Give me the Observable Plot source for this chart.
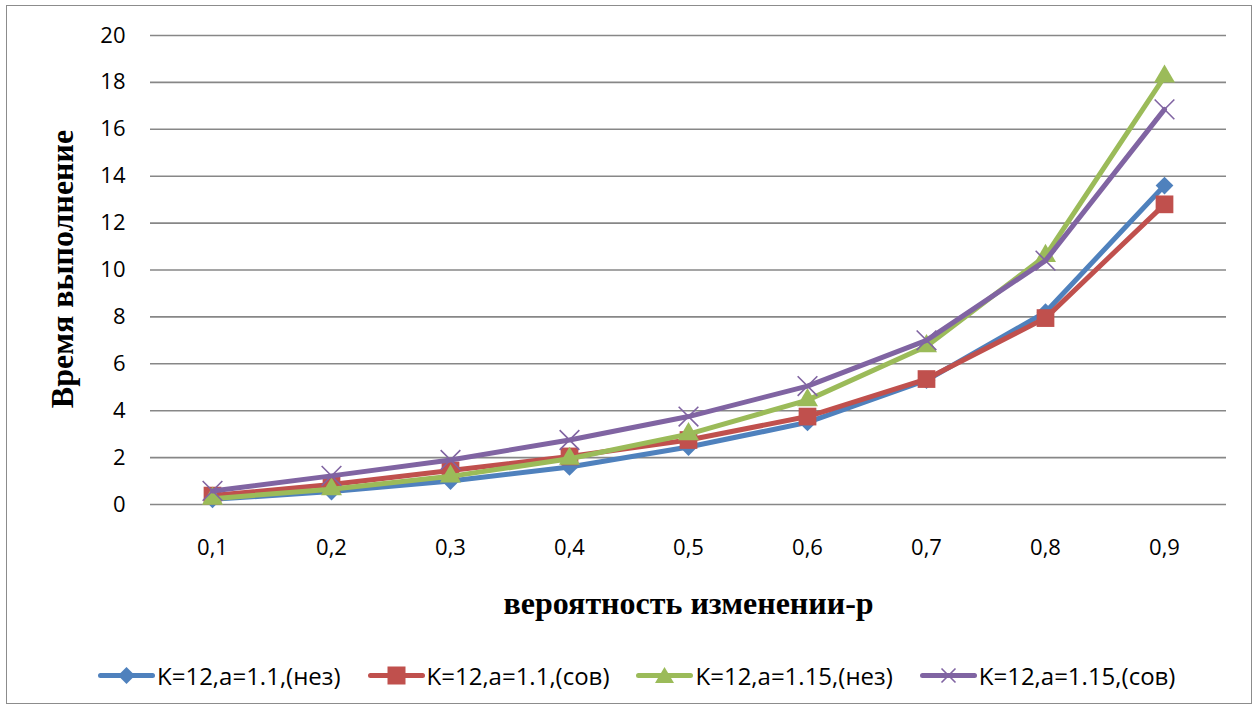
<!DOCTYPE html>
<html>
<head>
<meta charset="utf-8">
<script src="https://cdn.jsdelivr.net/npm/d3@7"></script>
<script src="https://cdn.jsdelivr.net/npm/@observablehq/plot@0.6"></script>
<style>
  html, body { margin: 0; padding: 0; background: #fff; }
  #wrap { position: relative; width: 1259px; height: 713px; overflow: hidden; }
  #frame { position: absolute; left: 6px; top: 5px; width: 1246px; height: 699px; border: 1px solid #8c8c8c; box-sizing: border-box; pointer-events: none; }
  #chart { position: absolute; left: 0; top: 0; }
  #legend { position: absolute; left: 98px; top: 659px; display: flex; align-items: center; font-family: "Open Sans", sans-serif; font-size: 24px; color: #000; white-space: nowrap; }
  .item { display: flex; align-items: center; margin-right: 27px; }
  .item svg { margin-right: 2px; }
</style>
</head>
<body>
<div id="wrap">
  <div id="chart"></div>
  <div id="legend"></div>
  <div id="frame"></div>
</div>
<script>
// ---- data ----
const pLabels = ["0,1", "0,2", "0,3", "0,4", "0,5", "0,6", "0,7", "0,8", "0,9"];
const seriesNames = ["K=12,a=1.1,(нез)", "K=12,a=1.1,(сов)", "K=12,a=1.15,(нез)", "K=12,a=1.15,(сов)"];
const s1 = [0.22, 0.55, 1.0, 1.6, 2.45, 3.5, 5.3, 8.2, 13.6];
const s2 = [0.38, 0.85, 1.45, 2.05, 2.75, 3.75, 5.35, 7.95, 12.8];
const s3 = [0.25, 0.65, 1.2, 1.95, 3.0, 4.45, 6.75, 10.6, 18.25];
const s4 = [0.58, 1.22, 1.9, 2.75, 3.75, 5.05, 7.0, 10.4, 16.85];
const yTicks = [0, 2, 4, 6, 8, 10, 12, 14, 16, 18, 20];
const yTitle = "Время выполнение";
const xTitle = "вероятность изменении-р";

const colors = ["#4F81BD", "#C0504D", "#9BBB59", "#8064A2"];
const symbols = ["diamond2", "square", "triangle", "times"];
const radii = [8, 10, 7.8, 9];

const allSeries = [s1, s2, s3, s4];
const tables = allSeries.map((vals, i) => vals.map((v, j) => ({p: pLabels[j], v, s: seriesNames[i]})));

const marks = [
  Plot.ruleY(yTicks, {stroke: "#878787", strokeWidth: 1.6}),
  Plot.axisY({ticks: yTicks, tickSize: 0, tickPadding: 25, label: null, fontSize: 22}),
  Plot.axisX({tickSize: 0, tickPadding: 35, label: null, fontSize: 22})
];
tables.forEach((t, i) => {
  marks.push(Plot.line(t, {x: "p", y: "v", stroke: colors[i], strokeWidth: 5, strokeLinejoin: "round", strokeLinecap: "round"}));
  if (symbols[i] === "times") {
    marks.push(Plot.dot(t, {x: "p", y: "v", symbol: symbols[i], r: radii[i], stroke: colors[i], strokeWidth: 1.6, fill: "none"}));
  } else {
    marks.push(Plot.dot(t, {x: "p", y: "v", symbol: symbols[i], r: radii[i], fill: colors[i], stroke: "none"}));
  }
});
marks.push(Plot.text([yTitle], {frameAnchor: "left", textAnchor: "middle", lineAnchor: "middle", rotate: -90, dx: -88, dy: -1, fontFamily: "Liberation Serif", fontWeight: "bold", fontSize: 32, fill: "#000"}));
marks.push(Plot.text([xTitle], {frameAnchor: "bottom", textAnchor: "middle", lineAnchor: "middle", dy: 99, fontFamily: "Liberation Serif", fontWeight: "bold", fontSize: 32, fill: "#000"}));

const chart = Plot.plot({
  width: 1259,
  height: 640,
  marginLeft: 150,
  marginRight: 33,
  marginTop: 35,
  marginBottom: 136,
  style: {fontFamily: "Open Sans", fontSize: "22px", color: "#000", background: "transparent"},
  x: {type: "point", domain: pLabels, padding: 0.5},
  y: {domain: [0, 20]},
  marks
});
document.getElementById("chart").appendChild(chart);

// ---- legend ----
const legend = document.getElementById("legend");
const symPaths = {
  "diamond2": (c) => `<path d="M28.5,2 L37,10.5 L28.5,19 L20,10.5Z" fill="${c}"/>`,
  "square": (c) => `<rect x="19.5" y="1.5" width="18" height="18" fill="${c}"/>`,
  "triangle": (c) => `<path d="M28.5,2 L38,18 L19,18Z" fill="${c}"/>`,
  "times": (c) => `<path d="M21.5,3.5 L35.5,17.5 M35.5,3.5 L21.5,17.5" stroke="${c}" stroke-width="1.6"/>`
};
seriesNames.forEach((name, i) => {
  const item = document.createElement("div");
  item.className = "item";
  item.innerHTML = `<svg width="57" height="21" viewBox="0 0 57 21"><line x1="2.5" y1="10.5" x2="54.5" y2="10.5" stroke="${colors[i]}" stroke-width="5" stroke-linecap="round"/>${symPaths[symbols[i]](colors[i])}</svg><span>${name}</span>`;
  legend.appendChild(item);
});
</script>
</body>
</html>
